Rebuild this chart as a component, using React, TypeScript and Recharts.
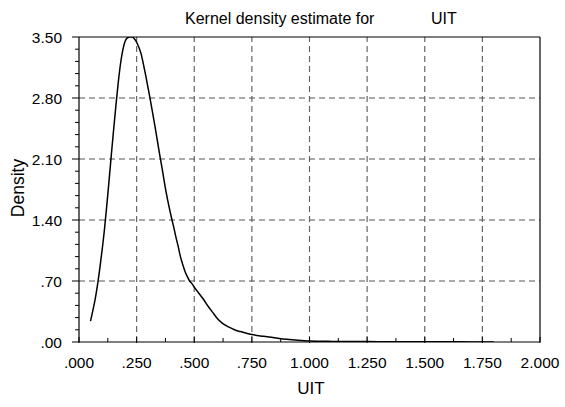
import React from "react";
import { LineChart, Line, XAxis, YAxis, ReferenceLine } from "recharts";

const uitValues = [
  0.05, 0.06, 0.07, 0.08, 0.09, 0.1, 0.11, 0.12, 0.13, 0.14, 0.15, 0.16, 0.17, 0.18, 0.19,
  0.2, 0.21, 0.22, 0.23, 0.24, 0.25, 0.26, 0.27, 0.28, 0.29, 0.3, 0.31, 0.32, 0.33, 0.34,
  0.35, 0.36, 0.37, 0.38, 0.39, 0.4, 0.41, 0.42, 0.43, 0.44, 0.45, 0.46, 0.47, 0.48, 0.49,
  0.5, 0.52, 0.54, 0.56, 0.58, 0.6, 0.62, 0.64, 0.66, 0.68, 0.7, 0.75, 0.8, 0.85, 0.9,
  0.95, 1.0, 1.1, 1.2, 1.3, 1.4, 1.5, 1.6, 1.7, 1.8,
];
const densityValues = [
  0.24, 0.36, 0.49, 0.65, 0.84, 1.05, 1.28, 1.55, 1.84, 2.14, 2.43, 2.71, 2.97, 3.19, 3.35,
  3.45, 3.49, 3.5, 3.5, 3.48, 3.44, 3.38, 3.3, 3.18, 3.05, 2.91, 2.77, 2.62, 2.47, 2.31,
  2.15, 2.0, 1.84, 1.69, 1.56, 1.44, 1.33, 1.21, 1.1, 0.98, 0.89, 0.81, 0.75, 0.7, 0.67,
  0.63, 0.56, 0.49, 0.41, 0.34, 0.27, 0.22, 0.185, 0.16, 0.135, 0.12, 0.085, 0.065, 0.048, 0.032,
  0.02, 0.012, 0.007, 0.005, 0.004, 0.003, 0.002, 0.002, 0.001, 0.001,
];

const xMajorTicks = [0, 0.25, 0.5, 0.75, 1, 1.25, 1.5, 1.75, 2];
const xTickLabels = [".000", ".250", ".500", ".750", "1.000", "1.250", "1.500", "1.750", "2.000"];
const xMinorTicks = [0.125, 0.375, 0.625, 0.875, 1.125, 1.375, 1.625, 1.875];
const yMajorTicks = [0, 0.7, 1.4, 2.1, 2.8, 3.5];
const yTickLabels = [".00", ".70", "1.40", "2.10", "2.80", "3.50"];
const yMinorTicks = [
  0.14, 0.28, 0.42, 0.56, 0.84, 0.98, 1.12, 1.26, 1.54, 1.68, 1.82, 1.96,
  2.24, 2.38, 2.52, 2.66, 2.94, 3.08, 3.22, 3.36,
];
const xGridValues = [0.25, 0.5, 0.75, 1, 1.25, 1.5, 1.75];
const yGridValues = [0.7, 1.4, 2.1, 2.8];

const titleText = "Kernel density estimate for";
const titleVar = "UIT";
const xLabel = "UIT";
const yLabel = "Density";

const data = uitValues.map((x, i) => ({ x, d: densityValues[i] }));

const FONT = "'Liberation Sans', Arial, Helvetica, sans-serif";

const findMajor = (list: number[], v: number) =>
  list.findIndex((t) => Math.abs(t - v) < 1e-6);

const XTick = (props: any) => {
  const { x, y, payload } = props;
  const idx = findMajor(xMajorTicks, payload.value);
  if (idx < 0) {
    return <line x1={x} x2={x} y1={y} y2={y - 4} stroke="#000" strokeWidth={1} />;
  }
  return (
    <g>
      <line x1={x} x2={x} y1={y + 1} y2={y - 5} stroke="#000" strokeWidth={1} />
      <text x={x} y={y + 26} textAnchor="middle" fontSize={15.5} fontFamily={FONT} fill="#000">
        {xTickLabels[idx]}
      </text>
    </g>
  );
};

const YTick = (props: any) => {
  const { x, y, payload } = props;
  const idx = findMajor(yMajorTicks, payload.value);
  if (idx < 0) {
    return <line x1={x - 4} x2={x} y1={y} y2={y} stroke="#000" strokeWidth={1} />;
  }
  return (
    <g>
      <line x1={x - 7} x2={x} y1={y} y2={y} stroke="#000" strokeWidth={1} />
      <text x={x - 17} y={y + 5.5} textAnchor="end" fontSize={15.5} fontFamily={FONT} fill="#000">
        {yTickLabels[idx]}
      </text>
    </g>
  );
};

const xTicksAll = [...xMajorTicks, ...xMinorTicks].sort((a, b) => a - b);
const yTicksAll = [...yMajorTicks, ...yMinorTicks].sort((a, b) => a - b);

export default function App() {
  return (
    <div style={{ position: "absolute", left: 0, top: 0, width: 565, height: 407, background: "#fff" }}>
      <LineChart
        width={565}
        height={407}
        data={data}
        margin={{ top: 37, right: 25, bottom: 0, left: 0 }}
      >
        <XAxis
          dataKey="x"
          type="number"
          domain={[0, 2]}
          ticks={xTicksAll}
          interval={0}
          tick={<XTick />}
          tickLine={false}
          tickSize={0}
          tickMargin={0}
          height={65}
          axisLine={{ stroke: "#000", strokeWidth: 1.2 }}
          allowDataOverflow
        />
        <YAxis
          type="number"
          domain={[0, 3.5]}
          ticks={yTicksAll}
          interval={0}
          tick={<YTick />}
          tickLine={false}
          tickSize={0}
          tickMargin={0}
          width={79}
          axisLine={{ stroke: "#000", strokeWidth: 1.2 }}
          allowDataOverflow
        />
        {xGridValues.map((v) => (
          <ReferenceLine key={"gx" + v} x={v} stroke="#666" strokeWidth={1.2} strokeDasharray="6 4" />
        ))}
        {yGridValues.map((v) => (
          <ReferenceLine key={"gy" + v} y={v} stroke="#555" strokeWidth={1.2} strokeDasharray="6 4" />
        ))}
        <ReferenceLine x={2} stroke="#000" strokeWidth={1.2} />
        <ReferenceLine y={3.5} stroke="#000" strokeWidth={1.2} />
        <Line
          dataKey="d"
          type="monotone"
          dot={false}
          stroke="#000"
          strokeWidth={1.5}
          isAnimationActive={false}
        />
      </LineChart>
      <svg
        width={565}
        height={407}
        style={{ position: "absolute", left: 0, top: 0, pointerEvents: "none" }}
      >
        <text x={185} y={24} fontSize={16} fontFamily={FONT} fill="#000">
          {titleText}
        </text>
        <text x={431} y={24} fontSize={16} fontFamily={FONT} fill="#000">
          {titleVar}
        </text>
        <text x={311} y={394} textAnchor="middle" fontSize={17} fontFamily={FONT} fill="#000">
          {xLabel}
        </text>
        <text
          x={0}
          y={0}
          transform="translate(24,188) rotate(-90)"
          textAnchor="middle"
          fontSize={17.5}
          fontFamily={FONT}
          fill="#000"
        >
          {yLabel}
        </text>
      </svg>
    </div>
  );
}
